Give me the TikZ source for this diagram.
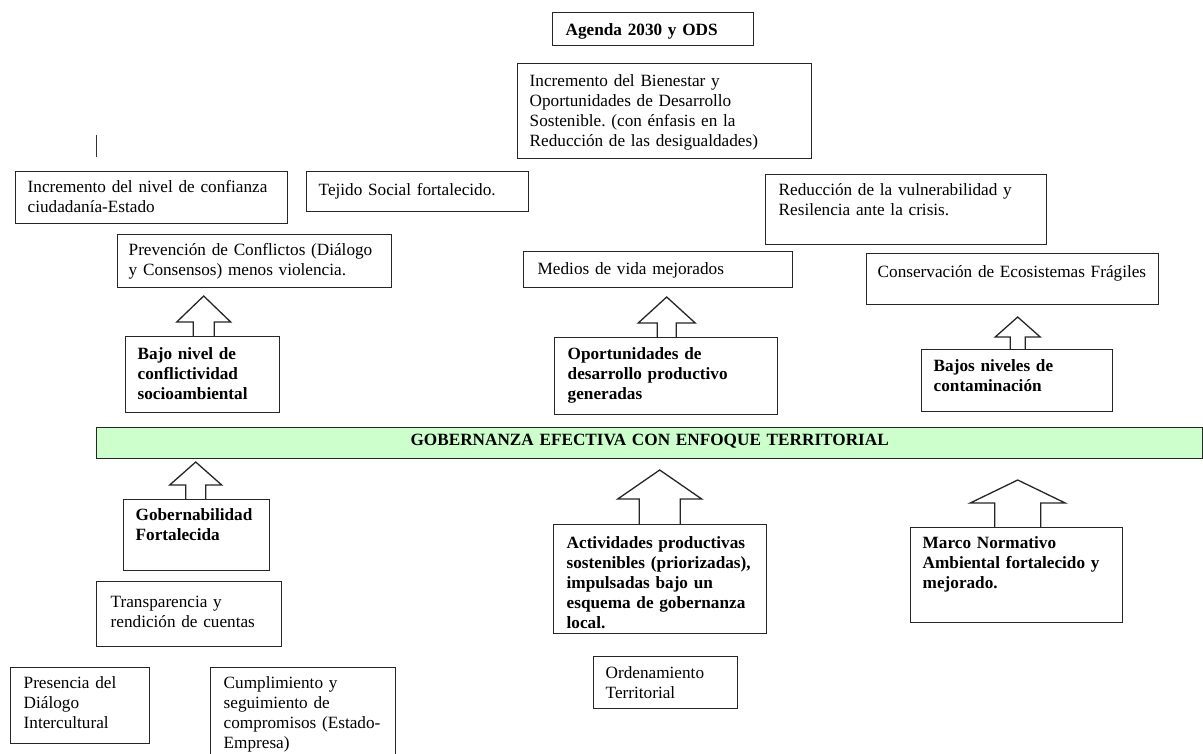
\documentclass[tikz,border=0pt]{standalone}
\usepackage{fontspec}
\setmainfont{Liberation Serif}
\frenchspacing
\definecolor{bargreen}{RGB}{204, 255, 204}
\usetikzlibrary{positioning, calc}
\tikzset{
  box/.style={draw=black!85, line width=1.4pt, anchor=north west, align=left, inner ysep=0pt, font=\fontsize{17.2}{20}\selectfont},
  boldbox/.style={box, font=\fontsize{17.2}{20}\selectfont\bfseries},
  blockarrow/.style={draw=black!85, line width=1.3pt, line join=miter}
}

\begin{document}
\begin{tikzpicture}[x=1pt, y=-1pt]
  \useasboundingbox (0,0) rectangle (1203,753);
  \fill[white] (0,0) rectangle (1203,753);
  \clip (0,0) rectangle (1203,753);

  % Upper results
  \node[boldbox, text width=175pt, inner xsep=13pt, text height=23pt, text depth=10pt] (agenda) at (552,12) {Agenda 2030 y ODS};
  \node[box, text width=270pt, inner xsep=12pt, text height=23pt, text depth=72pt] (bienestar) at (517,63) {Incremento del Bienestar y\\Oportunidades de Desarrollo\\Sostenible. (con énfasis en la\\Reducción de las desigualdades)};
  \draw[line width=0.9pt, black!80] (96,135) -- (96,157);

  \node[box, text width=248pt, inner xsep=12pt, text height=21pt, text depth=31pt] (confianza) at (15,171) {Incremento del nivel de confianza\\ciudadanía-Estado};
  \node[box, text width=198pt, inner xsep=12pt, text height=24pt, text depth=16pt] (tejido) at (306,171) {Tejido Social fortalecido.};
  \node[box, text width=255pt, inner xsep=13pt, text height=21pt, text depth=49pt] (reduccion) at (765,174) {Reducción de la vulnerabilidad y\\Resilencia ante la crisis.};

  \node[box, text width=252pt, inner xsep=11pt, text height=21pt, text depth=32pt] (prevencion) at (117,234) {Prevención de Conflictos (Diálogo\\y Consensos) menos violencia.};
  \node[box, text width=241pt, inner xsep=14pt, text height=23pt, text depth=13pt] (medios) at (523,251) {Medios de vida mejorados};
  \node[box, text width=270pt, inner xsep=11pt, text height=24pt, text depth=27pt] (conservacion) at (866,253) {Conservación de Ecosistemas Frágiles};

  % Outcomes above the bar
  \node[boldbox, text width=130pt, inner xsep=12pt, text height=23pt, text depth=53pt] (bajo) at (125,336) {Bajo nivel de\\conflictividad\\socioambiental};
  \node[boldbox, text width=197pt, inner xsep=13pt, text height=22pt, text depth=55pt] (oport) at (554,337) {Oportunidades de\\desarrollo productivo\\generadas};
  \node[boldbox, text width=167pt, inner xsep=12pt, text height=22pt, text depth=40pt] (bajos) at (921,349) {Bajos niveles de\\contaminación};

  \draw[blockarrow] ([xshift=-9.5pt]bajo.north) -- ++(0,-14) -- ++(-16.5,0) -- ++(27,-26) -- ++(27,26) -- ++(-16.5,0) -- ++(0,14);
  \draw[blockarrow] ([xshift=-9pt]oport.north) -- ++(0,-14) -- ++(-19,0) -- ++(28.5,-26) -- ++(28.5,26) -- ++(-19,0) -- ++(0,14);
  \draw[blockarrow] ([xshift=-7pt]bajos.north) -- ++(0,-12) -- ++(-15,0) -- ++(22.5,-20) -- ++(22.5,20) -- ++(-15,0) -- ++(0,12);

  % Governance bar
  \node[boldbox, fill=bargreen, align=center, text width=1082pt, inner xsep=12pt, text height=18pt, text depth=13pt] (gobernanza) at (96,427) {GOBERNANZA EFECTIVA CON ENFOQUE TERRITORIAL};

  % Lower level
  \node[boldbox, text width=122pt, inner xsep=12pt, text height=21pt, text depth=50pt] (gobernabilidad) at (123,499) {Gobernabilidad\\Fortalecida};
  \node[boldbox, text width=187pt, inner xsep=13pt, text height=24pt, text depth=85pt] (actividades) at (553,524) {Actividades productivas\\sostenibles (priorizadas),\\impulsadas bajo un\\esquema de gobernanza\\local.};
  \node[boldbox, text width=188pt, inner xsep=12pt, text height=21pt, text depth=74pt] (marco) at (910,527) {Marco Normativo\\Ambiental fortalecido y\\mejorado.};

  \draw[blockarrow] ([xshift=-11pt]gobernabilidad.north) -- ++(0,-14) -- ++(-16,0) -- ++(26,-23) -- ++(26,23) -- ++(-16,0) -- ++(0,14);
  \draw[blockarrow] ([xshift=-21pt]actividades.north) -- ++(0,-25) -- ++(-21.5,0) -- ++(42,-29) -- ++(42,29) -- ++(-21.5,0) -- ++(0,25);
  \draw[blockarrow] ([xshift=-22pt]marco.north) -- ++(0,-24) -- ++(-24.5,0) -- ++(47.5,-23) -- ++(47.5,23) -- ++(-24.5,0) -- ++(0,24);

  \node[box, text width=157pt, inner xsep=14pt, text height=26pt, text depth=39pt] (transparencia) at (96,581) {Transparencia y\\rendición de cuentas};
  \node[box, text width=120pt, inner xsep=12pt, text height=22pt, text depth=30pt] (ordenamiento) at (593,656) {Ordenamiento\\Territorial};
  \node[box, text width=113pt, inner xsep=13pt, text height=21pt, text depth=55pt] (presencia) at (10,667) {Presencia del\\Diálogo\\Intercultural};
  \node[box, text width=159pt, inner xsep=13pt, text height=21pt, text depth=89pt] (cumplimiento) at (210,667) {Cumplimiento y\\seguimiento de\\compromisos (Estado-\\Empresa)};
\end{tikzpicture}
\end{document}
